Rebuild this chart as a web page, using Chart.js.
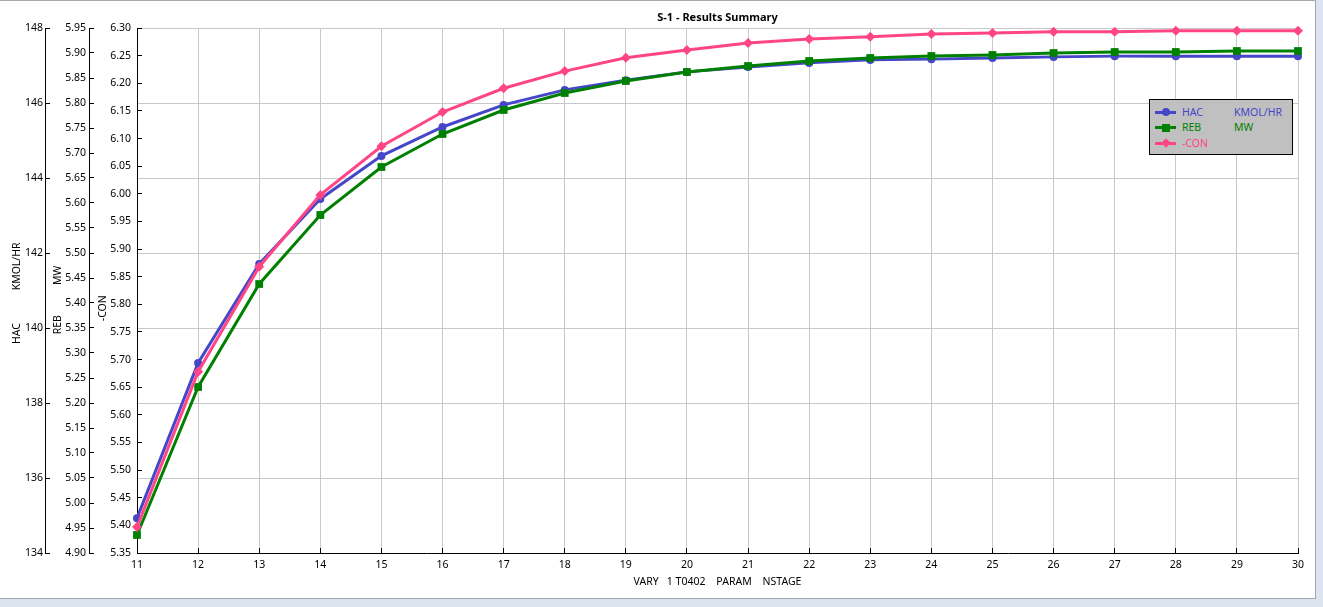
<!DOCTYPE html>
<html lang="en">
<head>
<meta charset="UTF-8">
<title>S-1 - Results Summary</title>
<style>
    body {
        margin: 0;
        width: 1323px;
        height: 607px;
        overflow: hidden;
        background: #dce5ef;
        font-family: "Noto Sans", sans-serif;
    }

    .frame {
        position: absolute;
        left: 0;
        top: 0;
        width: 1315px;
        height: 597px;
        background: #fff;
        border-top: 1px solid #a3a9b0;
        border-right: 1px solid #9ea7b1;
        border-bottom: 1px solid #9ea7b1;
    }

    .chart-box {
        position: absolute;
        left: 0;
        top: 0;
        width: 1316px;
        height: 598px;
    }

    .legend {
        position: absolute;
        left: 1149px;
        top: 99px;
        width: 142px;
        height: 54px;
        background: #c0c0c0;
        border: 1px solid #000;
        font-size: 10.5px;
    }

    .legend .row {
        position: absolute;
        left: 0;
        width: 100%;
        height: 15px;
        line-height: 15px;
    }

    .legend .ln {
        position: absolute;
        left: 5px;
        top: 6px;
        width: 21px;
        height: 3px;
    }

    .legend .mk {
        position: absolute;
        left: 12px;
        top: 3.5px;
        width: 8px;
        height: 8px;
    }

    .legend .mk.circle { border-radius: 50%; }
    .legend .mk.diamond { transform: rotate(45deg) scale(0.85); }

    .legend .name { position: absolute; left: 32px; top: 0; }
    .legend .unit { position: absolute; left: 84px; top: 0; }
</style>
</head>
<body>
    <div class="frame"></div>
    <div class="chart-box">
        <canvas id="summary" width="1316" height="598"></canvas>
    </div>
    <div class="legend" id="legend"></div>

    <script src="https://cdn.jsdelivr.net/npm/chart.js"></script>
    <script>
        // values
        const stages = ['11', '12', '13', '14', '15', '16', '17', '18', '19', '20',
                        '21', '22', '23', '24', '25', '26', '27', '28', '29', '30'];
        const hacFlow = [134.93, 139.07, 141.71, 143.44, 144.59, 145.36, 145.95, 146.35, 146.61, 146.83,
                         146.96, 147.07, 147.15, 147.17, 147.20, 147.23, 147.25, 147.25, 147.25, 147.25];
        const rebDuty = [4.936, 5.232, 5.438, 5.576, 5.672, 5.738, 5.786, 5.820, 5.844, 5.862,
                         5.874, 5.884, 5.890, 5.894, 5.896, 5.900, 5.902, 5.902, 5.904, 5.904];
        const conDuty = [5.397, 5.678, 5.868, 5.998, 6.086, 6.148, 6.191, 6.222, 6.246, 6.260,
                         6.273, 6.280, 6.284, 6.289, 6.291, 6.293, 6.293, 6.295, 6.295, 6.295];

        const seriesNames = ['HAC', 'REB', '-CON'];
        const seriesUnits = ['KMOL/HR', 'MW', ''];
        const hacTicks = [134, 148, 2];
        const rebTicks = [4.90, 5.95, 0.05];
        const conTicks = [5.35, 6.30, 0.05];

        const chartTitle = 'S-1 - Results Summary';
        const xTitle = 'VARY   1 T0402    PARAM    NSTAGE';

        const BLUE = '#4646c8';
        const GREEN = '#008000';
        const PINK = '#ff4586';
        const GRID = '#c8c8c8';
        const markers = ['circle', 'square', 'diamond'];

        Chart.defaults.font.family = '"Noto Sans", sans-serif';
        Chart.defaults.font.size = 10.5;
        Chart.defaults.color = '#000';

        const titlePlugin = {
            id: 'plotTitle',
            afterDraw(chart) {
                const { ctx, chartArea } = chart;
                ctx.save();
                ctx.font = 'bold 11px "Noto Sans", sans-serif';
                ctx.fillStyle = '#000';
                ctx.textAlign = 'center';
                ctx.textBaseline = 'middle';
                ctx.fillText(chartTitle, (chartArea.left + chartArea.right) / 2, 18);
                ctx.restore();
            }
        };

        const hideFirst = (c) => c.index === 0 ? 'rgba(0,0,0,0)' : GRID;

        function leftAxis(range, width, weight, pad, titleText, titlePad, onArea, digits) {
            return {
                type: 'linear',
                position: 'left',
                weight: weight,
                min: range[0],
                max: range[1],
                grid: {
                    drawOnChartArea: onArea,
                    color: hideFirst,
                    tickColor: '#000',
                    tickLength: -5
                },
                border: { color: '#000', width: 1 },
                ticks: {
                    stepSize: range[2],
                    autoSkip: false,
                    padding: pad,
                    callback: (v) => Number(v).toFixed(digits)
                },
                title: {
                    display: true,
                    text: titleText,
                    padding: { top: titlePad, bottom: 0 }
                },
                afterFit(scale) { scale.width = width; }
            };
        }

        const ctx = document.getElementById('summary');

        const chart = new Chart(ctx, {
            type: 'line',
            data: {
                labels: stages,
                datasets: [{
                    label: seriesNames[0],
                    data: hacFlow,
                    yAxisID: 'yHac',
                    borderColor: BLUE,
                    backgroundColor: BLUE,
                    pointStyle: 'circle',
                    pointRadius: 4,
                    order: 2
                }, {
                    label: seriesNames[1],
                    data: rebDuty,
                    yAxisID: 'yReb',
                    borderColor: GREEN,
                    backgroundColor: GREEN,
                    pointStyle: 'rect',
                    pointRadius: 5.5,
                    order: 1
                }, {
                    label: seriesNames[2],
                    data: conDuty,
                    yAxisID: 'yCon',
                    borderColor: PINK,
                    backgroundColor: PINK,
                    pointStyle: 'rectRot',
                    pointRadius: 5,
                    order: 0
                }]
            },
            options: {
                responsive: false,
                animation: false,
                maintainAspectRatio: false,
                layout: { padding: { top: 28, right: 18, left: 0, bottom: 0 } },
                elements: {
                    line: { borderWidth: 3, tension: 0 },
                    point: { borderWidth: 0, hoverRadius: 5 }
                },
                datasets: { line: { clip: false } },
                plugins: {
                    legend: { display: false },
                    tooltip: { enabled: false }
                },
                scales: {
                    x: {
                        type: 'category',
                        grid: { color: hideFirst, tickColor: '#000', tickLength: -5 },
                        border: { color: '#000', width: 1 },
                        ticks: { padding: 11, maxRotation: 0, autoSkip: false },
                        title: { display: true, text: xTitle, padding: { top: 0, bottom: 10 } },
                        afterFit(scale) { scale.height = 45; }
                    },
                    yHac: leftAxis(hacTicks, 45, 3, 7, 'HAC            KMOL/HR  ', 11, true, 0),
                    yReb: leftAxis(rebTicks, 44, 2, 8, 'REB           MW       ', 7, false, 2),
                    yCon: leftAxis(conTicks, 48, 1, 11, '-CON             ', 8, false, 2)
                }
            },
            plugins: [titlePlugin]
        });

        // legend box with the series names and units
        const legendBox = document.getElementById('legend');
        chart.data.datasets.forEach((ds, i) => {
            const row = document.createElement('div');
            row.className = 'row';
            row.style.top = (4.5 + i * 15.5) + 'px';
            row.innerHTML =
                `<span class="ln" style="background:${ds.borderColor}"></span>` +
                `<span class="mk ${markers[i]}" style="background:${ds.borderColor}"></span>` +
                `<span class="name" style="color:${ds.borderColor}">${ds.label}</span>` +
                `<span class="unit" style="color:${ds.borderColor}">${seriesUnits[i]}</span>`;
            legendBox.appendChild(row);
        });
    </script>
</body>
</html>
